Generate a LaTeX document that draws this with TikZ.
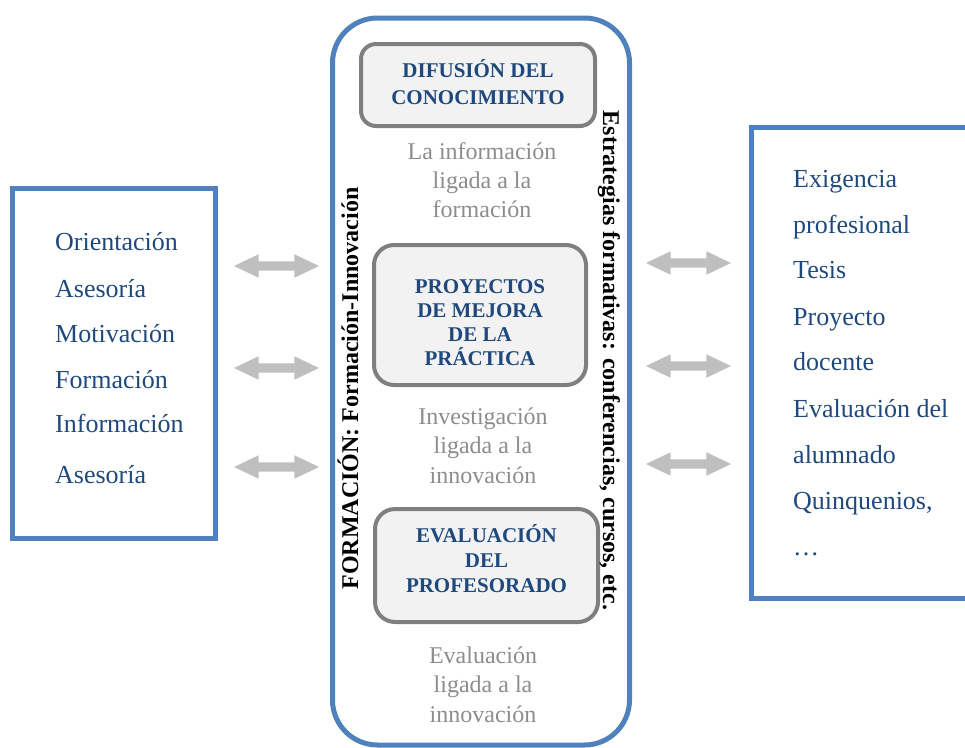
\documentclass[tikz,border=0pt]{standalone}
\usepackage{fontspec}
\setmainfont{Liberation Serif}
\usetikzlibrary{shapes.arrows}
\definecolor{frameblue}{RGB}{79,129,189}
\definecolor{inkblue}{RGB}{31,73,125}
\definecolor{softgray}{RGB}{140,140,140}
\definecolor{boxedge}{RGB}{127,127,127}
\definecolor{boxfill}{RGB}{242,242,242}
\definecolor{arrowgray}{RGB}{191,191,191}

\begin{document}
\begin{tikzpicture}[x=1pt,y=-1pt,
  frame/.style={draw=frameblue, line width=5pt, inner sep=0},
  stage/.style={draw=boxedge, fill=boxfill, line width=4pt, inner sep=0},
  stagetitle/.style={text=inkblue, align=center, inner sep=0},
  listitem/.style={text=inkblue, font=\fontsize{26}{30}\selectfont, anchor=base west, inner sep=0},
  note/.style={text=softgray, align=center, inner sep=0},
  sidetitle/.style={font=\fontsize{24}{28}\selectfont\bfseries, anchor=base, inner sep=0},
  link/.style={shape=double arrow, fill=arrowgray, minimum height=85pt,
    inner xsep=0pt, inner ysep=4.5pt, text height=0pt, text depth=0pt,
    double arrow head extend=7pt, double arrow tip angle=51}
]
\useasboundingbox (0,0) rectangle (965,747);
\clip (0,0) rectangle (965,747);

% outer frames
\node[frame, minimum width=203pt, minimum height=350pt] (leftbox) at (114,363) {};
\node[frame, rounded corners=45pt, minimum width=297pt, minimum height=727pt] (core) at (481,381.5) {};
\node[frame, minimum width=239pt, minimum height=471pt] (rightbox) at (870.5,362.5) {};

% the three stages
\node[stage, rounded corners=15pt, minimum width=234pt, minimum height=82pt] (s1) at (478,85) {};
\node[stage, rounded corners=20pt, minimum width=212pt, minimum height=140pt] (s2) at (480,315) {};
\node[stage, rounded corners=20pt, minimum width=223pt, minimum height=113pt] (s3) at (486.5,565.5) {};

\node[stagetitle, font=\fontsize{21}{27}\selectfont\bfseries] (t1) at (478,82)
  {DIFUSIÓN DEL\\CONOCIMIENTO};
\node[stagetitle, font=\fontsize{21}{24}\selectfont\bfseries] (t2) at (480,323)
  {PROYECTOS\\DE MEJORA\\DE LA\\PRÁCTICA};
\node[stagetitle, font=\fontsize{21}{25}\selectfont\bfseries] (t3) at (486.5,558.7)
  {EVALUACIÓN\\DEL\\PROFESORADO};

% notes under each stage
\node[note, font=\fontsize{24}{29}\selectfont] (n1) at (482,179.8)
  {La información\\ligada a la\\formación};
\node[note, font=\fontsize{24}{29.5}\selectfont] (n2) at (483,445.3)
  {Investigación\\ligada a la\\innovación};
\node[note, font=\fontsize{24}{29.5}\selectfont] (n3) at (483,684.3)
  {Evaluación\\ligada a la\\innovación};

% side titles
\node[sidetitle, rotate=90] (vleft) at (358,388.5) {FORMACIÓN: Formación-Innovación};
\node[sidetitle, rotate=-90] (vright) at (603,360.5) {Estrategias formativas: conferencias, cursos, etc.};

% lists
\foreach \w/\b [count=\i] in {Orientación/250, Asesoría/297, Motivación/342,
    Formación/388, Información/432, Asesoría/483}
  \node[listitem] (l\i) at (55,\b) {\w};
\foreach \w/\b [count=\i] in {Exigencia/187, profesional/233, Tesis/278,
    Proyecto/325, docente/370, Evaluación del/417, alumnado/463,
    {Quinquenios,}/509, …/555}
  \node[listitem] (r\i) at (793,\b) {\w};

% double arrows
\node[link] (al1) at (276.5,266) {};
\node[link] (al2) at (276.5,368) {};
\node[link] (al3) at (276.5,467) {};
\node[link] (ar1) at (688.5,263) {};
\node[link] (ar2) at (688.5,366) {};
\node[link] (ar3) at (688.5,464) {};
\end{tikzpicture}
\end{document}
